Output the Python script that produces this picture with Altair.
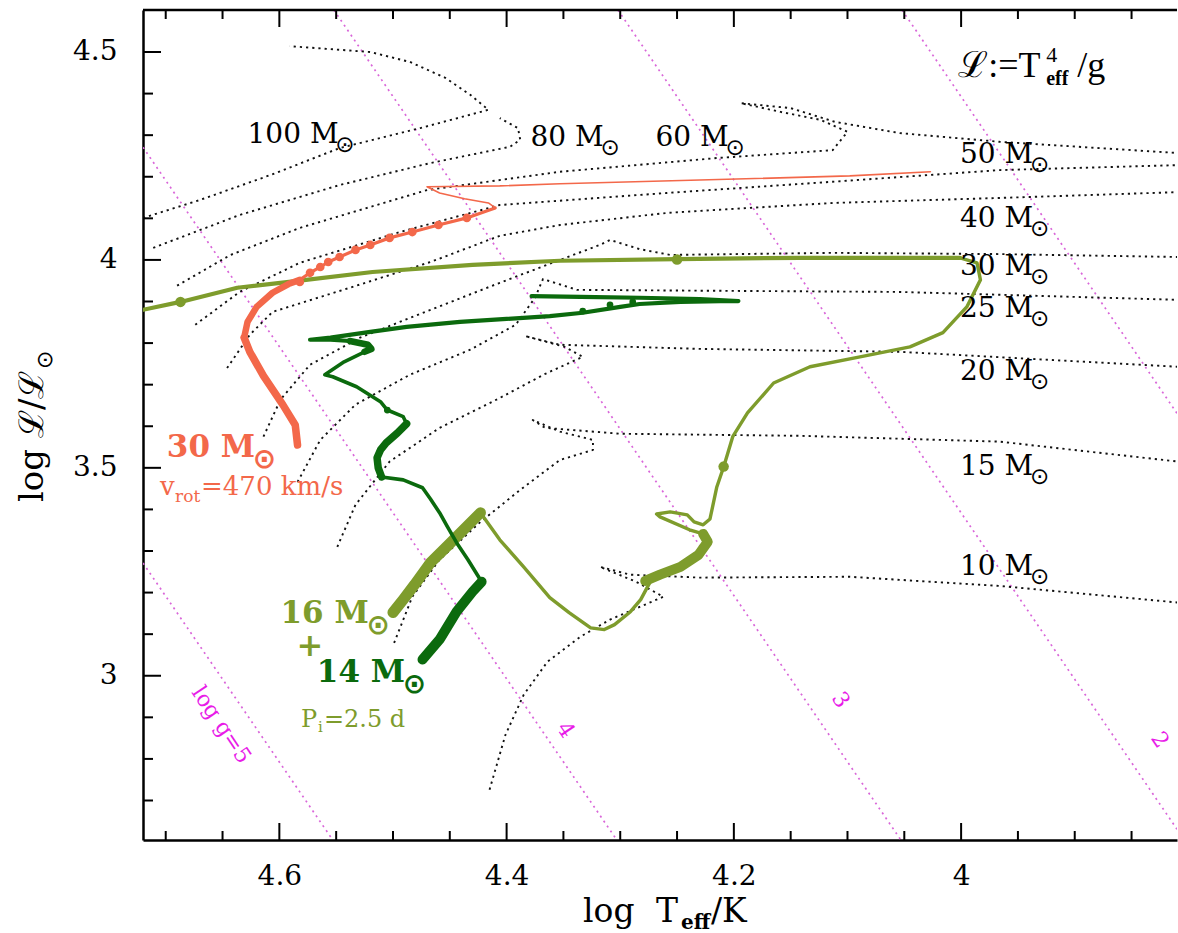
import altair as alt
import pandas as pd

SERIF = "DejaVu Serif"
SANS = "DejaVu Sans"

RED = "#F3684A"
OLIVE = "#7E9C2C"
DKGREEN = "#0B6A0D"
MAG_TXT = "#E81BE8"
MAG_LN = "#D966D9"

# ---------------- axes ----------------
T_LO, T_HI = 3.81, 4.72          # log Teff (drawn hot -> cool, left -> right)
L_LO, L_HI = 2.605, 4.601        # log spectroscopic luminosity
W, H = 1034, 830

x_major = [4.6, 4.4, 4.2, 4.0]
x_minor = [4.70, 4.65, 4.55, 4.50, 4.45, 4.35, 4.30, 4.25, 4.15, 4.10, 4.05, 3.95, 3.90, 3.85]
y_major = [4.5, 4.0, 3.5, 3.0]
y_minor = [4.4, 4.3, 4.2, 4.1, 3.9, 3.8, 3.7, 3.6, 3.4, 3.3, 3.2, 3.1, 2.9, 2.8, 2.7]

# ---------------- lines of constant surface gravity ----------------
logg_values = [5, 4, 3, 2, 1]
logg_T = [[4.720, 4.553], [4.720, 4.303], [4.552, 4.053], [4.302, 3.810], [4.052, 3.810]]
logg_L = [[3.271, 2.605], [4.271, 2.605], [4.601, 2.605], [4.601, 2.631], [4.601, 3.631]]

# ---------------- non-rotating single-star tracks ----------------
m100_T = [4.720, 4.670, 4.608, 4.547, 4.476, 4.416, 4.432, 4.454, 4.485, 4.520, 4.591]
m100_L = [4.101, 4.144, 4.204, 4.269, 4.317, 4.361, 4.397, 4.438, 4.476, 4.500, 4.514]
m80_T = [4.711, 4.635, 4.547, 4.467, 4.397, 4.388, 4.390, 4.406]
m80_L = [4.029, 4.108, 4.180, 4.233, 4.272, 4.289, 4.317, 4.341]
m60_T = [4.690, 4.643, 4.582, 4.470, 4.353, 4.215, 4.113, 4.100, 4.124, 4.159, 4.194, 4.150, 4.111, 4.054, 3.966, 3.809]
m60_L = [3.938, 4.012, 4.077, 4.168, 4.212, 4.245, 4.264, 4.308, 4.337, 4.356, 4.377, 4.365, 4.332, 4.305, 4.284, 4.257]
m50_T = [4.674, 4.635, 4.582, 4.494, 4.406, 4.259, 4.113, 3.966, 3.809]
m50_L = [3.844, 3.923, 3.993, 4.067, 4.132, 4.161, 4.188, 4.216, 4.228]
m40_T = [4.646, 4.626, 4.606, 4.538, 4.467, 4.406, 4.353, 4.259, 4.113, 3.966, 3.809]
m40_L = [3.740, 3.820, 3.875, 3.933, 3.995, 4.058, 4.084, 4.113, 4.137, 4.149, 4.163]
m30_T = [4.614, 4.599, 4.573, 4.529, 4.467, 4.406, 4.353, 4.318, 4.309, 4.283, 4.256, 4.113, 3.966, 3.809]
m30_L = [3.575, 3.664, 3.748, 3.813, 3.880, 3.945, 4.000, 4.036, 4.048, 4.026, 4.012, 4.017, 4.014, 4.007]
m25_T = [4.584, 4.564, 4.533, 4.485, 4.432, 4.392, 4.375, 4.368, 4.338, 4.230, 4.054, 3.809]
m25_L = [3.466, 3.567, 3.652, 3.724, 3.784, 3.844, 3.909, 3.954, 3.928, 3.926, 3.923, 3.904]
m20_T = [4.549, 4.533, 4.503, 4.459, 4.406, 4.366, 4.333, 4.349, 4.384, 4.353, 4.230, 4.054, 3.809]
m20_L = [3.310, 3.411, 3.515, 3.596, 3.668, 3.726, 3.767, 3.791, 3.817, 3.796, 3.786, 3.779, 3.743]
m15_T = [4.499, 4.483, 4.459, 4.423, 4.388, 4.353, 4.324, 4.324, 4.353, 4.377, 4.366, 4.300, 4.142, 3.966, 3.809]
m15_L = [3.079, 3.190, 3.279, 3.370, 3.447, 3.519, 3.543, 3.567, 3.587, 3.615, 3.596, 3.582, 3.577, 3.563, 3.515]
m10_T = [4.415, 4.401, 4.385, 4.364, 4.335, 4.309, 4.262, 4.286, 4.318, 4.291, 4.230, 4.098, 3.966, 3.809]
m10_L = [2.726, 2.858, 2.954, 3.034, 3.094, 3.135, 3.190, 3.226, 3.262, 3.243, 3.236, 3.238, 3.216, 3.176]

# ---------------- rotating 30 Msun, v_rot = 470 km/s ----------------
rot_ms_T = [4.584, 4.586, 4.597, 4.614, 4.626, 4.631]
rot_ms_L = [3.555, 3.603, 3.652, 3.721, 3.779, 3.813]
rot_turn_T = [4.631, 4.628, 4.620, 4.606, 4.592, 4.582]
rot_turn_L = [3.813, 3.851, 3.887, 3.921, 3.942, 3.952]
rot_mid_T = [4.582, 4.573, 4.564, 4.557, 4.547, 4.533, 4.520, 4.503, 4.483, 4.460, 4.435, 4.417, 4.410]
rot_mid_L = [3.952, 3.969, 3.983, 3.995, 4.007, 4.024, 4.036, 4.053, 4.067, 4.084, 4.101, 4.118, 4.125]
rot_late_T = [4.410, 4.416, 4.437, 4.459, 4.470, 4.406, 4.353, 4.230, 4.098, 4.027]
rot_late_L = [4.125, 4.137, 4.147, 4.161, 4.176, 4.178, 4.183, 4.192, 4.202, 4.212]
rot_dot_T = [4.582, 4.573, 4.564, 4.557, 4.547, 4.533, 4.520, 4.503, 4.483, 4.460, 4.435]
rot_dot_L = [3.947, 3.969, 3.983, 3.995, 4.007, 4.024, 4.036, 4.053, 4.067, 4.084, 4.101]

# ---------------- binary: 16 Msun primary ----------------
pri_a_T = [4.500, 4.491, 4.481, 4.467, 4.451, 4.436, 4.423]
pri_a_L = [3.152, 3.183, 3.219, 3.272, 3.315, 3.356, 3.392]
pri_b_T = [4.423, 4.406, 4.385, 4.362, 4.345, 4.326, 4.314, 4.305, 4.291, 4.282, 4.274]
pri_b_L = [3.392, 3.327, 3.262, 3.188, 3.152, 3.115, 3.111, 3.123, 3.154, 3.183, 3.224]
pri_c_T = [4.278, 4.265, 4.247, 4.231, 4.223, 4.227]
pri_c_L = [3.228, 3.243, 3.262, 3.291, 3.322, 3.341]
pri_d_T = [4.227, 4.239, 4.265, 4.268, 4.256, 4.241, 4.235, 4.227, 4.221, 4.215, 4.209, 4.201,
           4.188, 4.165, 4.133, 4.089, 4.045, 4.016, 3.995, 3.983, 3.986, 4.001]
pri_d_L = [3.341, 3.351, 3.382, 3.389, 3.394, 3.387, 3.370, 3.363, 3.377, 3.454, 3.502, 3.575,
           3.632, 3.704, 3.743, 3.767, 3.791, 3.825, 3.887, 3.952, 3.993, 4.005]
pri_e_T = [4.001, 4.054, 4.142, 4.250, 4.353, 4.430, 4.518, 4.582, 4.637, 4.687, 4.720]
pri_e_L = [4.005, 4.005, 4.005, 4.002, 3.998, 3.988, 3.971, 3.950, 3.933, 3.899, 3.880]
pri_dot_T = [4.687, 4.250, 4.209]
pri_dot_L = [3.899, 4.001, 3.503]

# ---------------- binary: 14 Msun secondary ----------------
sec_a_T = [4.474, 4.459, 4.444, 4.430, 4.422]
sec_a_L = [3.039, 3.087, 3.154, 3.202, 3.226]
sec_b_T = [4.422, 4.434, 4.444, 4.452, 4.459, 4.467, 4.474, 4.491, 4.510]
sec_b_L = [3.226, 3.279, 3.320, 3.358, 3.392, 3.425, 3.452, 3.471, 3.478]
sec_c_T = [4.510, 4.513, 4.514, 4.511, 4.506, 4.496, 4.488]
sec_c_L = [3.478, 3.500, 3.524, 3.543, 3.560, 3.584, 3.606]
sec_d_T = [4.488, 4.491, 4.505, 4.511, 4.532, 4.553, 4.560, 4.543, 4.525]
sec_d_L = [3.606, 3.623, 3.639, 3.659, 3.695, 3.719, 3.724, 3.755, 3.779]
sec_e_T = [4.525, 4.519, 4.522, 4.538]
sec_e_L = [3.779, 3.786, 3.796, 3.805]
sec_f_T = [4.538, 4.555, 4.573, 4.555, 4.520, 4.488, 4.441, 4.400, 4.362, 4.333, 4.300, 4.283,
           4.247, 4.212, 4.196, 4.230, 4.283, 4.335, 4.378]
sec_f_L = [3.805, 3.808, 3.808, 3.813, 3.827, 3.839, 3.851, 3.858, 3.865, 3.873, 3.887, 3.894,
           3.899, 3.901, 3.901, 3.906, 3.909, 3.911, 3.913]
sec_dot_T = [4.505, 4.333, 4.309, 4.289]
sec_dot_L = [3.639, 3.877, 3.892, 3.899]

# ---------------- labels ----------------
mass_labels = ["100", "80", "60", "50", "40", "30", "25", "20", "15", "10"]
mass_label_T = [4.628, 4.379, 4.269, 4.001, 4.001, 4.001, 4.001, 4.001, 4.001, 4.001]
mass_label_L = [4.281, 4.274, 4.274, 4.233, 4.079, 3.964, 3.863, 3.712, 3.483, 3.243]

logg_labels = ["log g=5", "4", "3", "2"]
logg_label_T = [4.651, 4.348, 4.106, 3.825]
logg_label_L = [2.882, 2.870, 2.942, 2.846]

# ---------------- encodings ----------------
xs = alt.Scale(domain=[T_LO, T_HI], reverse=True, nice=False, zero=False)
ys = alt.Scale(domain=[L_LO, L_HI], nice=False, zero=False)
x_axis = alt.Axis(values=x_major, format=".1~f", labelFont=SERIF, labelFontSize=28,
                  labelColor="black", labelPadding=22, ticks=False, domain=True,
                  domainColor="black", domainWidth=2.5, grid=False, title=None)
y_axis = alt.Axis(values=y_major, format=".1~f", labelFont=SERIF, labelFontSize=28,
                  labelColor="black", labelPadding=26, ticks=False, domain=True,
                  domainColor="black", domainWidth=2.5, grid=False, title=None)


def X(field="T"):
    return alt.X(f"{field}:Q", scale=xs, axis=x_axis)


def Y(field="L"):
    return alt.Y(f"{field}:Q", scale=ys, axis=y_axis)


def frame(T, L):
    return pd.DataFrame({"T": T, "L": L, "i": list(range(len(T)))})


def path(T, L, color, width, dash=None, opacity=1.0, cap="round"):
    kw = dict(color=color, strokeWidth=width, clip=True, strokeCap=cap,
              strokeJoin="round", opacity=opacity)
    if dash:
        kw["strokeDash"] = dash
    return alt.Chart(frame(T, L)).mark_line(**kw).encode(x=X(), y=Y(), order="i:Q")


def dots(T, L, color, size):
    return alt.Chart(frame(T, L)).mark_circle(color=color, size=size, opacity=1,
                                              clip=True).encode(x=X(), y=Y())


def note(T, L, text, size, color="black", font=SERIF, weight="normal", align="left",
         baseline="alphabetic", dx=0, dy=0, angle=0):
    kw = dict(text=text, fontSize=size, font=font, fontWeight=weight, color=color,
              align=align, baseline=baseline, dx=dx, dy=dy)
    if angle:
        kw["angle"] = angle
    return alt.Chart(pd.DataFrame({"T": [T], "L": [L]})).mark_text(**kw).encode(x=X(), y=Y())


def pix_note(px, py, text, size, color="black", font=SERIF, weight="normal", align="left",
             baseline="alphabetic", dx=0, dy=0, angle=0):
    kw = dict(text=text, fontSize=size, font=font, fontWeight=weight, color=color,
              align=align, baseline=baseline, dx=dx, dy=dy)
    if angle:
        kw["angle"] = angle
    return alt.Chart(pd.DataFrame({"a": [0]})).mark_text(**kw).encode(
        x=alt.value(px), y=alt.value(py))


def mass_width(digits, size, bold=False):
    # approximate advance of "NN M" in DejaVu Serif
    if bold:
        return (digits * 0.696 + 0.348 + 1.0) * size
    return (digits * 0.636 + 0.318 + 0.873) * size


layers = []

# gravity lines
for Tg, Lg in zip(logg_T, logg_L):
    layers.append(path(Tg, Lg, MAG_LN, 1.7, dash=[2, 4], cap="butt"))

# dotted single-star tracks
for Tm, Lm in [(m100_T, m100_L), (m80_T, m80_L), (m60_T, m60_L), (m50_T, m50_L),
               (m40_T, m40_L), (m30_T, m30_L), (m25_T, m25_L), (m20_T, m20_L),
               (m15_T, m15_L), (m10_T, m10_L)]:
    layers.append(path(Tm, Lm, "#111111", 1.9, dash=[2.2, 4.0], cap="butt"))

# binary primary (16 Msun)
layers += [
    path(pri_e_T, pri_e_L, OLIVE, 4.2),
    path(pri_d_T, pri_d_L, OLIVE, 3.4),
    path(pri_b_T, pri_b_L, OLIVE, 3.4),
    path(pri_a_T, pri_a_L, OLIVE, 11),
    path(pri_c_T, pri_c_L, OLIVE, 10),
    dots(pri_dot_T, pri_dot_L, OLIVE, 110),
]

# binary secondary (14 Msun)
layers += [
    path(sec_b_T, sec_b_L, DKGREEN, 3.6),
    path(sec_d_T, sec_d_L, DKGREEN, 3.6),
    path(sec_f_T, sec_f_L, DKGREEN, 4.2),
    path(sec_a_T, sec_a_L, DKGREEN, 10),
    path(sec_c_T, sec_c_L, DKGREEN, 7.5),
    path(sec_e_T, sec_e_L, DKGREEN, 6.5),
    dots(sec_dot_T, sec_dot_L, DKGREEN, 45),
]

# rotating 30 Msun
layers += [
    path(rot_late_T, rot_late_L, RED, 1.6),
    path(rot_mid_T, rot_mid_L, RED, 3.2),
    path(rot_turn_T, rot_turn_L, RED, 6.5),
    path(rot_ms_T, rot_ms_L, RED, 7.5),
    dots(rot_dot_T, rot_dot_L, RED, 75),
]


# inward ticks and top frame
def tick_rules(vals, side, length, width=2):
    df = pd.DataFrame({"v": vals})
    c = alt.Chart(df).mark_rule(color="black", strokeWidth=width)
    if side == "bottom":
        return c.encode(x=X("v"), y=alt.value(H), y2=alt.value(H - length))
    if side == "top":
        return c.encode(x=X("v"), y=alt.value(0), y2=alt.value(length))
    return c.encode(y=Y("v"), x=alt.value(0), x2=alt.value(length))


layers += [
    tick_rules(x_major, "bottom", 17), tick_rules(x_minor, "bottom", 9),
    tick_rules(x_major, "top", 17), tick_rules(x_minor, "top", 9),
    tick_rules(y_major, "left", 18), tick_rules(y_minor, "left", 10),
    alt.Chart(pd.DataFrame({"a": [0]})).mark_rule(color="black", strokeWidth=2.5).encode(
        x=alt.value(0), x2=alt.value(W), y=alt.value(0)),
]

# mass labels of the single-star tracks
for name, Tl, Ll in zip(mass_labels, mass_label_T, mass_label_L):
    layers.append(note(Tl, Ll, f"{name} M", 28))
    layers.append(note(Tl, Ll, "\u2299", 23, font=SANS,
                       dx=mass_width(len(name), 28) + 1, dy=9))

# gravity labels
for txt, Tl, Ll in zip(logg_labels, logg_label_T, logg_label_L):
    layers.append(note(Tl, Ll, txt, 22, color=MAG_TXT, align="center",
                       baseline="middle", angle=56))

# rotating-star annotation
layers += [
    note(4.699, 3.526, "30 M", 31, color=RED, weight="bold"),
    note(4.699, 3.526, "\u2299", 28, color=RED, font=SANS, weight="bold",
         dx=mass_width(2, 31, True) + 1, dy=11),
    note(4.705, 3.435, "v", 26, color=RED),
    note(4.705, 3.435, "rot", 17, color=RED, dx=15, dy=7),
    note(4.705, 3.435, "=470 km/s", 26, color=RED, dx=41),
]

# binary annotation
layers += [
    note(4.599, 3.127, "16 M", 31, color=OLIVE, weight="bold"),
    note(4.599, 3.127, "\u2299", 28, color=OLIVE, font=SANS, weight="bold",
         dx=mass_width(2, 31, True) + 1, dy=11),
    note(4.573, 3.072, "+", 32, color=OLIVE, weight="bold", align="center", baseline="middle"),
    note(4.567, 2.986, "14 M", 31, color=DKGREEN, weight="bold"),
    note(4.567, 2.986, "\u2299", 28, color=DKGREEN, font=SANS, weight="bold",
         dx=mass_width(2, 31, True) + 1, dy=11),
    note(4.581, 2.877, "P", 24, color=OLIVE),
    note(4.581, 2.877, "i", 15, color=OLIVE, dx=17, dy=5),
    note(4.581, 2.877, "=2.5 d", 24, color=OLIVE, dx=23),
]

# definition of the spectroscopic luminosity
layers += [
    note(4.0026, 4.440, "\u2112:=T", 36, font="Liberation Serif"),
    note(4.0026, 4.440, "4", 22, font="Liberation Serif", dx=88, dy=-15),
    note(4.0026, 4.440, "eff", 20, font="Liberation Serif", weight="bold", dx=88, dy=8),
    note(4.0026, 4.440, "/g", 36, font="Liberation Serif", dx=119),
]

# axis titles
layers += [
    pix_note(W / 2, H + 82, "log", 33, dx=-77),
    pix_note(W / 2, H + 82, "T", 33, dx=-4),
    pix_note(W / 2, H + 82, "eff", 20, weight="bold", dx=21, dy=7),
    pix_note(W / 2, H + 82, "/K", 33, dx=51),
    pix_note(-100, 492, "log", 34, angle=270),
    pix_note(-100, 492, "\u2112/\u2112", 34, angle=270, dx=64),
    pix_note(-100, 492, "\u2299", 22, font=SANS, angle=270, dx=133, dy=9),
]

chart = alt.layer(*layers).properties(
    width=W, height=H,
    padding={"left": 143, "top": 10, "right": 1, "bottom": 93},
    autosize=alt.AutoSizeParams(type="none"),
    background="white",
).configure_view(stroke=None)

chart.save("out.html", embed_options={"renderer": "svg", "actions": False})
